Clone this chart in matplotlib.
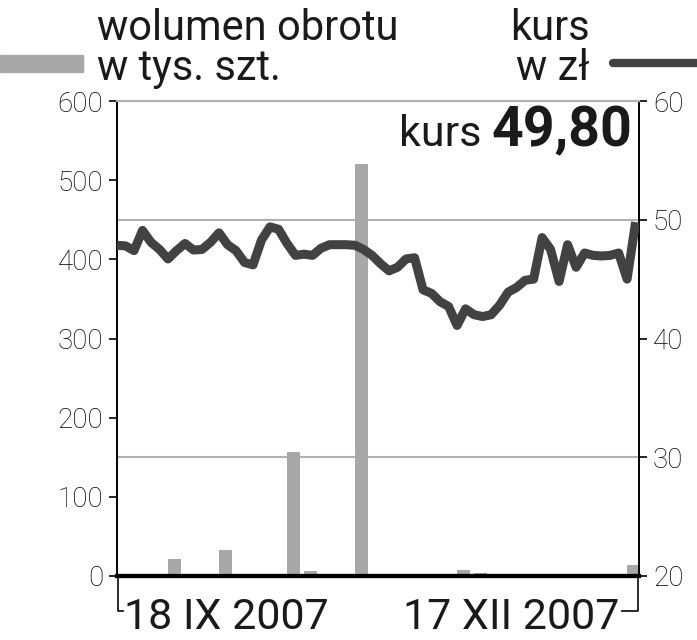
import numpy as np
import matplotlib
matplotlib.use('Agg')
import matplotlib.pyplot as plt
from matplotlib.lines import Line2D
from matplotlib.patches import Rectangle

plt.rcParams['font.family'] = ['Roboto', 'DejaVu Sans']

# kurs w zl (daily closes)
kurs = [47.85, 47.8, 47.4, 49.1, 48.1, 47.5, 46.7, 47.4, 48.0, 47.45,
        47.5, 48.1, 48.9, 47.9, 47.4, 46.4, 46.2, 48.3, 49.4, 49.2,
        48.0, 47.0, 47.1, 47.0, 47.6, 47.9, 47.9, 47.9, 47.85, 47.5,
        47.0, 46.3, 45.7, 46.0, 46.7, 46.8, 44.1, 43.8, 43.1, 42.7,
        41.1, 42.5, 42.0, 41.85, 42.0, 42.8, 43.9, 44.3, 44.9, 45.0,
        48.5, 47.5, 44.8, 47.9, 46.0, 47.2, 47.0, 46.95, 47.0, 47.2,
        45.0, 49.8]
# wolumen obrotu w tys. szt.
wolumen = [0, 0, 0, 21, 3, 0, 33, 0, 0, 0,
           157, 6, 0, 0, 520, 1, 0, 0, 2, 2,
           7, 4, 0, 0, 0, 0, 0, 0, 0, 0,
           14]
vol_ticks = [0, 100, 200, 300, 400, 500, 600]
kurs_ticks = [20, 30, 40, 50, 60]
grid_vol = [150, 450]
date_labels = ['18 IX 2007', '17 XII 2007']
last_kurs = '49,80'

txt = '#1a1a1a'
fig = plt.figure(figsize=(6.97, 6.4), dpi=100)
ax = fig.add_axes([117/697, 0.1, (639-117)/697, (576-101)/640])

xb = np.arange(len(wolumen)) * 2
ax.bar(xb, wolumen, width=1.5, align='edge', color='#a8a8a8', zorder=2)
for g in grid_vol:
    ax.axhline(g, color='#b0b0b0', lw=1.5, zorder=1)
ax.set_xlim(0, 61.4)
ax.set_ylim(0, 600)
ax.set_yticks(vol_ticks)
ax.set_xticks([])
ax.tick_params(axis='y', length=6, width=1.2, labelsize=20, pad=4, labelcolor='black')

ax2 = ax.twinx()
ax2.plot(np.arange(len(kurs)), kurs, color='#424242', lw=6.5, solid_joinstyle='round',
         solid_capstyle='butt', zorder=3)
ax2.set_ylim(20, 60)
ax2.set_yticks(kurs_ticks)
ax2.tick_params(axis='y', length=6, width=1.2, labelsize=20, pad=4, labelcolor='black')

for a in (ax, ax2):
    a.spines['top'].set_color('#b0b0b0')
    a.spines['top'].set_linewidth(1.5)
    a.spines['left'].set_linewidth(1.2)
    a.spines['right'].set_linewidth(1.2)
    a.spines['bottom'].set_linewidth(3)
    for lab in a.get_yticklabels():
        lab.set_fontweight('light')

ax.text((481-117)/522, 0.905, 'kurs', transform=ax.transAxes, ha='right', va='baseline',
        fontsize=31, color=txt, zorder=5)
ax.text(0.988, 0.905, last_kurs, transform=ax.transAxes, ha='right', va='baseline',
        fontsize=40, fontweight='bold', color=txt, zorder=5)

# legend / headers
fig.text(97/697, 1 - 40/640, 'wolumen obrotu', fontsize=30, color=txt, va='baseline')
fig.text(97/697, 1 - 80/640, 'w tys. szt.', fontsize=30, color=txt, va='baseline')
fig.text(590/697, 1 - 40/640, 'kurs', fontsize=30, color=txt, va='baseline', ha='right')
fig.text(590/697, 1 - 80/640, 'w zł', fontsize=30, color=txt, va='baseline', ha='right')
fig.patches.append(Rectangle((0, 1 - 72/640), 83/697, 17/640, transform=fig.transFigure,
                             color='#a8a8a8'))
fig.lines.append(Line2D([613/697, 1.0], [1 - 63/640] * 2, transform=fig.transFigure,
                        color='#424242', lw=6, solid_capstyle='round'))

# date brackets
fig.lines.append(Line2D([118/697, 118/697, 123/697], [1 - 578/640, 1 - 611/640, 1 - 611/640],
                        transform=fig.transFigure, color=txt, lw=1.3))
fig.lines.append(Line2D([622/697, 638/697, 638/697], [1 - 611/640, 1 - 611/640, 1 - 578/640],
                        transform=fig.transFigure, color=txt, lw=1.3))
fig.text(124/697, 1 - 629/640, date_labels[0], fontsize=31, color=txt, va='baseline')
fig.text(619/697, 1 - 629/640, date_labels[1], fontsize=31, color=txt, va='baseline', ha='right')

fig.savefig('out.png', dpi=100)
